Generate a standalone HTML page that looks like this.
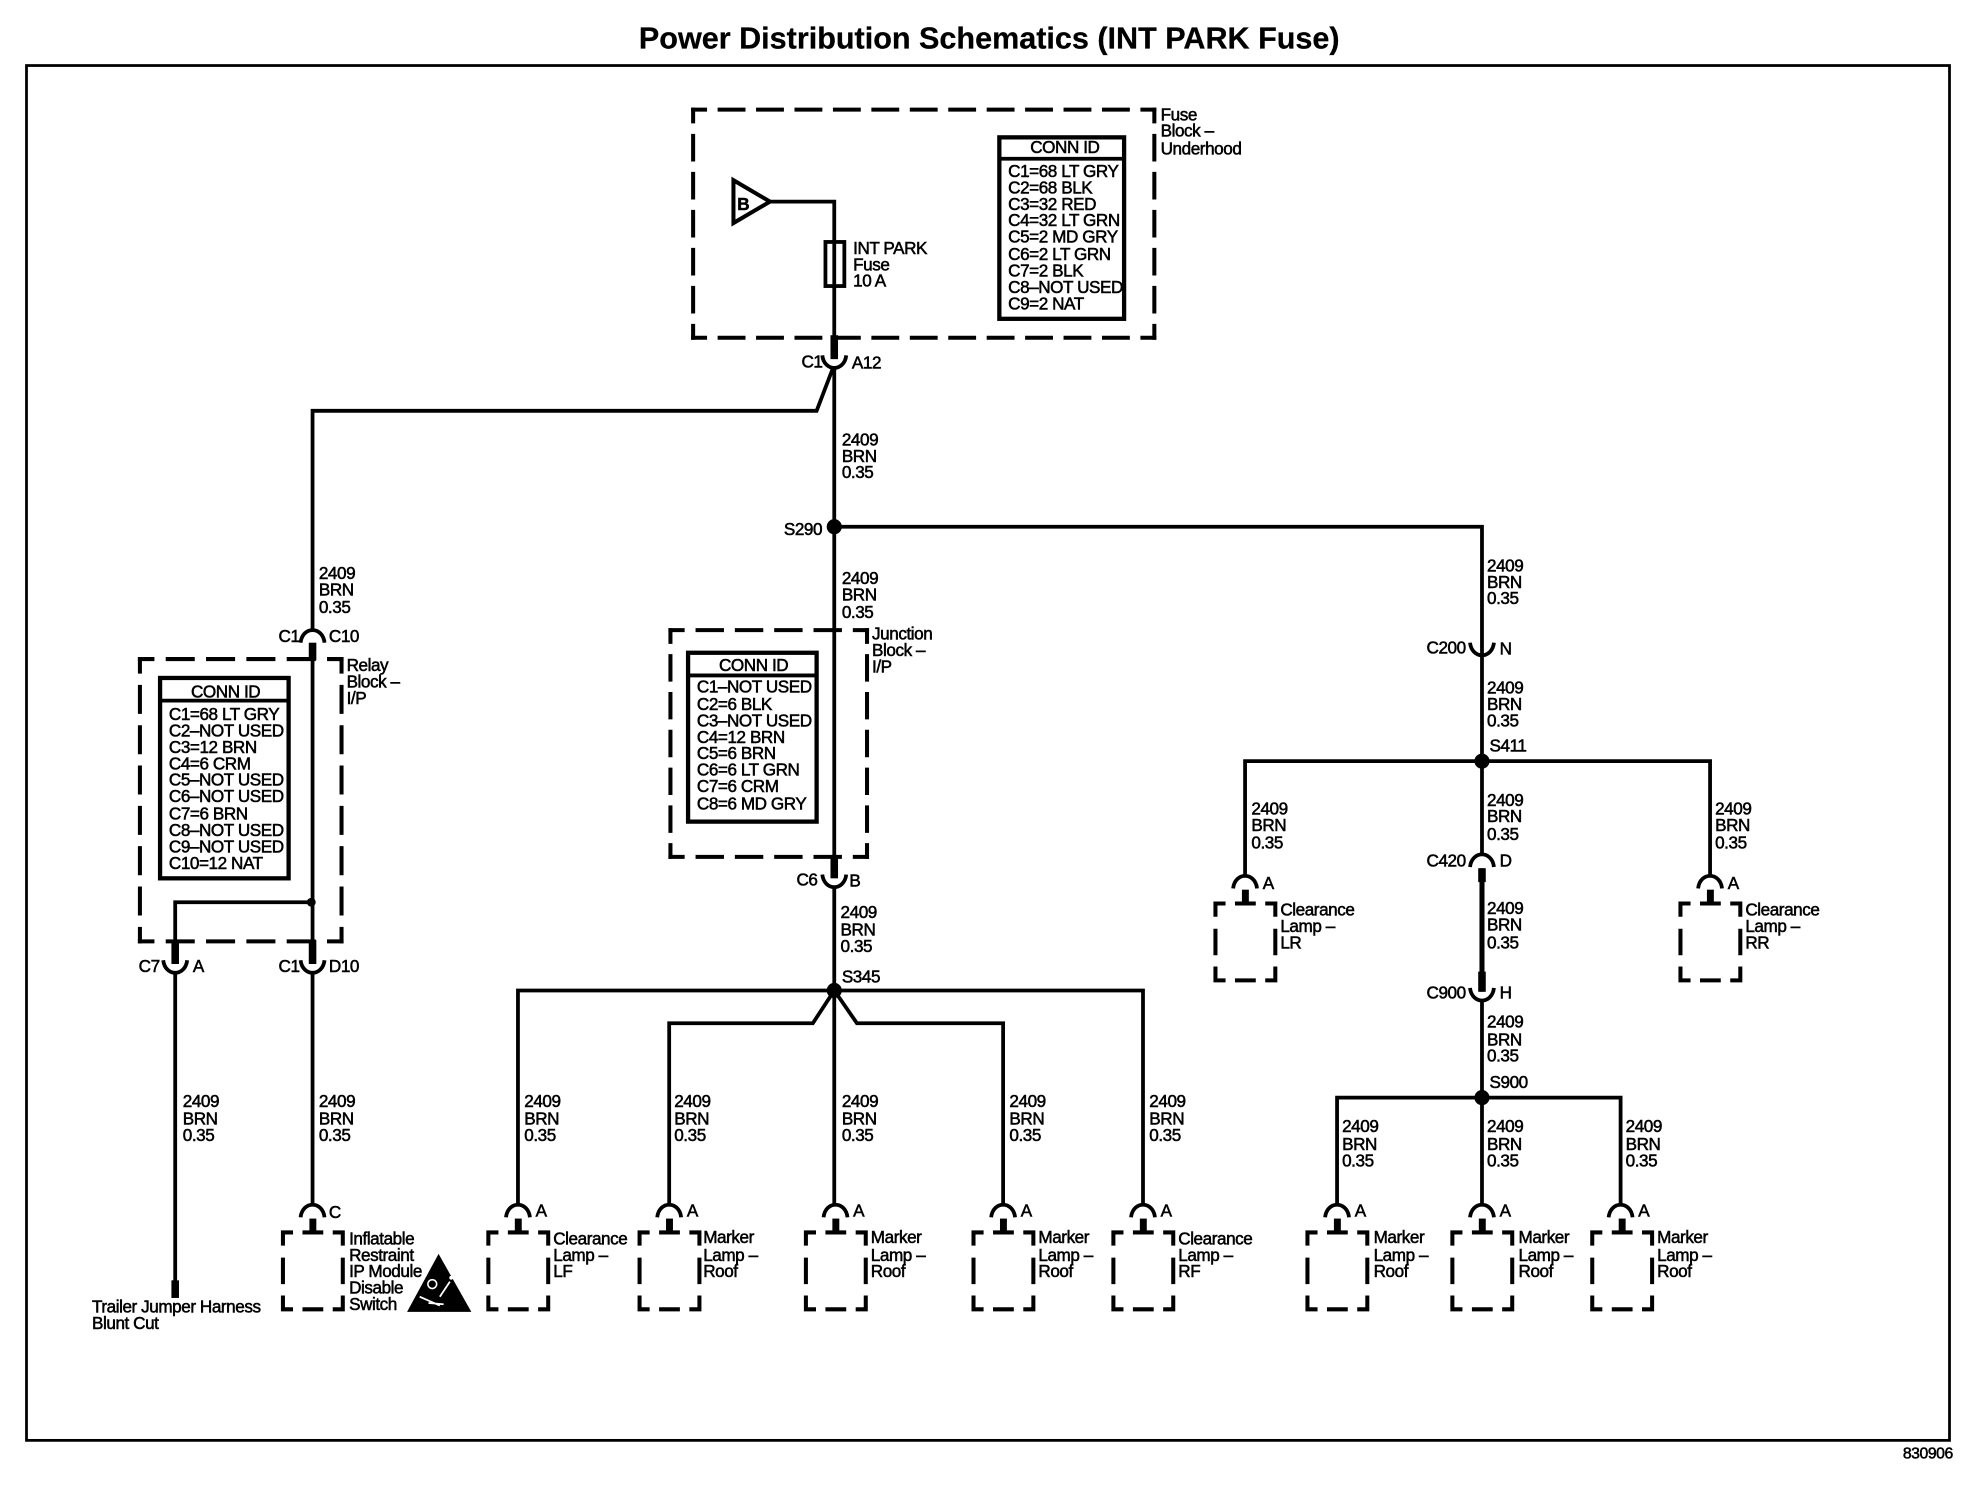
<!DOCTYPE html>
<html>
<head>
<meta charset="utf-8">
<title>Power Distribution Schematics (INT PARK Fuse)</title>
<style>
html,body{margin:0;padding:0;background:#fff;width:1976px;height:1504px;overflow:hidden}
svg{display:block}
text{font-family:"Liberation Sans",sans-serif;font-size:13.6px;fill:#000;stroke:#000;stroke-width:.42px;letter-spacing:-.35px;transform:translateY(.5px)}
.w{fill:none;stroke:#000;stroke-width:3}
.t{fill:none;stroke:#000;stroke-width:6}
.d{fill:none;stroke:#000;stroke-width:3.2;stroke-linecap:square;stroke-dasharray:.62 .38;stroke-dashoffset:.31}
.b{fill:#fff;stroke:#000;stroke-width:3.4}
</style>
</head>
<body>
<svg width="1976" height="1504" viewBox="0 0 1568 1193.5" xmlns="http://www.w3.org/2000/svg">
<defs>
<path id="u" class="w" d="M-9.500,-4 C-8,9.300 8,9.300 9.500,-4"/>
<path id="n" class="w" d="M-9.500,4 C-8,-9.300 8,-9.300 9.500,4"/>
<g id="lamp" fill="none" stroke="#000" stroke-width="3.2">
<path d="M0,10.500 V0 H8 M39.500,0 H47.500 V10.500 M0,20 V41 M47.500,20 V41 M0,50 V61 H8 M47.500,50 V61 H39.500 M15.500,0 H32 M15.500,61 H32"/>
<path d="M23.750,-11 V0" stroke-width="5.500"/>
</g>
</defs>

<text x="785" y="38" text-anchor="middle" textLength="556" lengthAdjust="spacingAndGlyphs" style="font-size:24px;font-weight:bold;stroke-width:.2px;letter-spacing:0">Power Distribution Schematics (INT PARK Fuse)</text>
<rect x="21" y="52" width="1526" height="1091" fill="none" stroke="#000" stroke-width="2.2"/>
<text x="1510" y="1157" style="font-size:12.5px">830906</text>

<!-- Fuse block -->
<path class="d" pathLength="12" d="M550,87 H916"/>
<path class="d" pathLength="12" d="M550,268 H916"/>
<path class="d" pathLength="6" d="M550,87 V268"/>
<path class="d" pathLength="6" d="M916,87 V268"/>
<path d="M582,143 L582,177 L611,160 Z" fill="#fff" stroke="#000" stroke-width="3.2"/>
<text x="585" y="166" style="font-weight:bold">B</text>
<path class="w" d="M611,160 H662 V268"/>
<rect x="655" y="192" width="15" height="35" fill="none" stroke="#000" stroke-width="3"/>
<path class="t" d="M662,266 V285"/>
<use href="#u" x="662" y="286"/>
<text x="677" y="201">INT PARK</text>
<text x="677" y="214">Fuse</text>
<text x="677" y="227">10 A</text>
<text x="921" y="95">Fuse</text>
<text x="921" y="108">Block –</text>
<text x="921" y="122">Underhood</text>
<rect x="793" y="109" width="99" height="144" class="b"/>
<path class="w" d="M793,126 H892"/>
<text x="845" y="121" text-anchor="middle">CONN ID</text>
<text x="800" y="140">C1=68 LT GRY</text>
<text x="800" y="153">C2=68 BLK</text>
<text x="800" y="166">C3=32 RED</text>
<text x="800" y="179">C4=32 LT GRN</text>
<text x="800" y="192">C5=2 MD GRY</text>
<text x="800" y="206">C6=2 LT GRN</text>
<text x="800" y="219">C7=2 BLK</text>
<text x="800" y="232">C8–NOT USED</text>
<text x="800" y="245">C9=2 NAT</text>
<text x="636" y="291">C1</text>
<text x="676" y="292">A12</text>

<!-- Main trunk -->
<path class="w" d="M662,291 V692"/>
<path class="w" d="M661,292 L648,326 H248 V500"/>
<circle cx="662" cy="418" r="6" fill="#000"/>
<path class="w" d="M662,418 H1176 V519"/>
<text x="622" y="424">S290</text>

<!-- Left / relay block -->
<use href="#n" x="248" y="506"/>
<path class="t" d="M248,510 V524"/>
<path class="d" pathLength="5" d="M111,523 H271"/>
<path class="d" pathLength="5" d="M111,747 H271"/>
<path class="d" pathLength="7" d="M111,523 V747"/>
<path class="d" pathLength="7" d="M271,523 V747"/>
<rect x="127" y="538" width="102" height="159" class="b"/>
<path class="w" d="M127,556 H229"/>
<text x="179" y="553" text-anchor="middle">CONN ID</text>
<text x="134" y="571">C1=68 LT GRY</text>
<text x="134" y="584">C2–NOT USED</text>
<text x="134" y="597">C3=12 BRN</text>
<text x="134" y="610">C4=6 CRM</text>
<text x="134" y="623">C5–NOT USED</text>
<text x="134" y="636">C6–NOT USED</text>
<text x="134" y="650">C7=6 BRN</text>
<text x="134" y="663">C8–NOT USED</text>
<text x="134" y="676">C9–NOT USED</text>
<text x="134" y="689">C10=12 NAT</text>
<path class="w" d="M248,520 V748"/>
<path class="w" d="M248,716 H139 V748"/>
<circle cx="247" cy="716" r="3.5" fill="#000"/>
<path class="t" d="M139,746 V765 M248,746 V765"/>
<use href="#u" x="139" y="766"/>
<use href="#u" x="248" y="766"/>
<path class="w" d="M139,771 V1017"/>
<path class="t" d="M139,1016 V1030"/>
<path class="w" d="M248,771 V957"/>
<use href="#n" x="248" y="962"/>
<use href="#lamp" x="224.500" y="978"/>
<text x="221" y="509">C1</text>
<text x="261" y="509">C10</text>
<text x="275" y="532">Relay</text>
<text x="275" y="545">Block –</text>
<text x="275" y="558">I/P</text>
<text x="110" y="771">C7</text>
<text x="153" y="771">A</text>
<text x="221" y="771">C1</text>
<text x="261" y="771">D10</text>
<text x="261" y="966">C</text>
<text x="73" y="1041">Trailer Jumper Harness</text>
<text x="73" y="1054">Blunt Cut</text>
<text x="277" y="987">Inflatable</text>
<text x="277" y="1000">Restraint</text>
<text x="277" y="1013">IP Module</text>
<text x="277" y="1026">Disable</text>
<text x="277" y="1039">Switch</text>
<path d="M348,995 L374,1041 L323,1041 Z" fill="#000"/>
<path d="M333,1029 L349,1036 M340,1034 L352,1035 M357,1017 L349,1029" stroke="#fff" stroke-width="1.4" fill="none"/>
<circle cx="343" cy="1019" r="3.5" fill="none" stroke="#fff" stroke-width="1.3"/>
<circle cx="358" cy="1014" r="1.5" fill="#fff"/>

<!-- Junction block -->
<path class="d" pathLength="5" d="M532,500 H688"/>
<path class="d" pathLength="5" d="M532,680 H688"/>
<path class="d" pathLength="6" d="M532,500 V680"/>
<path class="d" pathLength="6" d="M688,500 V680"/>
<rect x="546" y="518" width="102" height="134" class="b"/>
<path class="w" d="M546,536 H648"/>
<text x="598" y="532" text-anchor="middle">CONN ID</text>
<text x="553" y="549">C1–NOT USED</text>
<text x="553" y="563">C2=6 BLK</text>
<text x="553" y="576">C3–NOT USED</text>
<text x="553" y="589">C4=12 BRN</text>
<text x="553" y="602">C5=6 BRN</text>
<text x="553" y="615">C6=6 LT GRN</text>
<text x="553" y="628">C7=6 CRM</text>
<text x="553" y="642">C8=6 MD GRY</text>
<text x="692" y="507">Junction</text>
<text x="692" y="520">Block –</text>
<text x="692" y="533">I/P</text>
<path class="t" d="M662,679 V697"/>
<use href="#u" x="662" y="698"/>
<text x="632" y="702">C6</text>
<text x="674" y="703">B</text>

<!-- S345 branch -->
<path class="w" d="M662,703 V957"/>
<circle cx="662" cy="786" r="6" fill="#000"/>
<text x="668" y="779">S345</text>
<path class="w" d="M411,957 V786 H907 V957"/>
<path class="w" d="M662,786 L645,812 H531 V957"/>
<path class="w" d="M662,786 L680,812 H796 V957"/>
<use href="#n" x="411" y="962"/><use href="#lamp" x="387.500" y="978"/>
<use href="#n" x="531" y="962"/><use href="#lamp" x="507.500" y="978"/>
<use href="#n" x="663" y="962"/><use href="#lamp" x="639.500" y="978"/>
<use href="#n" x="796" y="962"/><use href="#lamp" x="772.500" y="978"/>
<use href="#n" x="907" y="962"/><use href="#lamp" x="883.500" y="978"/>
<text x="425" y="965">A</text>
<text x="545" y="965">A</text>
<text x="677" y="965">A</text>
<text x="810" y="965">A</text>
<text x="921" y="965">A</text>
<text x="439" y="987">Clearance</text><text x="439" y="1000">Lamp –</text><text x="439" y="1013">LF</text>
<text x="558" y="986">Marker</text><text x="558" y="1000">Lamp –</text><text x="558" y="1013">Roof</text>
<text x="691" y="986">Marker</text><text x="691" y="1000">Lamp –</text><text x="691" y="1013">Roof</text>
<text x="824" y="986">Marker</text><text x="824" y="1000">Lamp –</text><text x="824" y="1013">Roof</text>
<text x="935" y="987">Clearance</text><text x="935" y="1000">Lamp –</text><text x="935" y="1013">RF</text>

<!-- Right branch -->
<use href="#u" x="1176" y="514"/>
<text x="1132" y="518">C200</text>
<text x="1190" y="519">N</text>
<path class="w" d="M1176,519 V678"/>
<circle cx="1176" cy="604" r="6" fill="#000"/>
<text x="1182" y="596">S411</text>
<path class="w" d="M988,696 V604 H1357 V696"/>
<use href="#n" x="988" y="701"/><use href="#lamp" x="964.500" y="717"/>
<use href="#n" x="1357" y="701"/><use href="#lamp" x="1333.500" y="717"/>
<text x="1002" y="705">A</text>
<text x="1371" y="705">A</text>
<text x="1016" y="726">Clearance</text><text x="1016" y="739">Lamp –</text><text x="1016" y="752">LR</text>
<text x="1385" y="726">Clearance</text><text x="1385" y="739">Lamp –</text><text x="1385" y="752">RR</text>
<use href="#n" x="1176" y="684"/>
<text x="1132" y="687">C420</text>
<text x="1190" y="687">D</text>
<path d="M1176,689 V787" fill="none" stroke="#000" stroke-width="4"/>
<path class="t" d="M1176,689 V700 M1176,771 V787"/>
<use href="#u" x="1176" y="788"/>
<text x="1132" y="792">C900</text>
<text x="1190" y="792">H</text>
<path class="w" d="M1176,793 V957"/>
<circle cx="1176" cy="871" r="6" fill="#000"/>
<text x="1182" y="863">S900</text>
<path class="w" d="M1061,957 V871 H1286 V957"/>
<use href="#n" x="1061" y="962"/><use href="#lamp" x="1037.500" y="978"/>
<use href="#n" x="1176" y="962"/><use href="#lamp" x="1152.500" y="978"/>
<use href="#n" x="1286" y="962"/><use href="#lamp" x="1263.500" y="978"/>
<text x="1075" y="965">A</text>
<text x="1190" y="965">A</text>
<text x="1300" y="965">A</text>
<text x="1090" y="986">Marker</text><text x="1090" y="1000">Lamp –</text><text x="1090" y="1013">Roof</text>
<text x="1205" y="986">Marker</text><text x="1205" y="1000">Lamp –</text><text x="1205" y="1013">Roof</text>
<text x="1315" y="986">Marker</text><text x="1315" y="1000">Lamp –</text><text x="1315" y="1013">Roof</text>

<!-- Wire labels -->
<text x="668" y="353">2409</text><text x="668" y="366">BRN</text><text x="668" y="379">0.35</text>
<text x="668" y="463">2409</text><text x="668" y="476">BRN</text><text x="668" y="490">0.35</text>
<text x="253" y="459">2409</text><text x="253" y="472">BRN</text><text x="253" y="486">0.35</text>
<text x="1180" y="453">2409</text><text x="1180" y="466">BRN</text><text x="1180" y="479">0.35</text>
<text x="1180" y="550">2409</text><text x="1180" y="563">BRN</text><text x="1180" y="576">0.35</text>
<text x="993" y="646">2409</text><text x="993" y="659">BRN</text><text x="993" y="673">0.35</text>
<text x="1180" y="639">2409</text><text x="1180" y="652">BRN</text><text x="1180" y="666">0.35</text>
<text x="1361" y="646">2409</text><text x="1361" y="659">BRN</text><text x="1361" y="673">0.35</text>
<text x="1180" y="725">2409</text><text x="1180" y="738">BRN</text><text x="1180" y="752">0.35</text>
<text x="1180" y="815">2409</text><text x="1180" y="829">BRN</text><text x="1180" y="842">0.35</text>
<text x="667" y="728">2409</text><text x="667" y="742">BRN</text><text x="667" y="755">0.35</text>
<text x="145" y="878">2409</text><text x="145" y="892">BRN</text><text x="145" y="905">0.35</text>
<text x="253" y="878">2409</text><text x="253" y="892">BRN</text><text x="253" y="905">0.35</text>
<text x="416" y="878">2409</text><text x="416" y="892">BRN</text><text x="416" y="905">0.35</text>
<text x="535" y="878">2409</text><text x="535" y="892">BRN</text><text x="535" y="905">0.35</text>
<text x="668" y="878">2409</text><text x="668" y="892">BRN</text><text x="668" y="905">0.35</text>
<text x="801" y="878">2409</text><text x="801" y="892">BRN</text><text x="801" y="905">0.35</text>
<text x="912" y="878">2409</text><text x="912" y="892">BRN</text><text x="912" y="905">0.35</text>
<text x="1065" y="898">2409</text><text x="1065" y="912">BRN</text><text x="1065" y="925">0.35</text>
<text x="1180" y="898">2409</text><text x="1180" y="912">BRN</text><text x="1180" y="925">0.35</text>
<text x="1290" y="898">2409</text><text x="1290" y="912">BRN</text><text x="1290" y="925">0.35</text>
</svg>
</body>
</html>
